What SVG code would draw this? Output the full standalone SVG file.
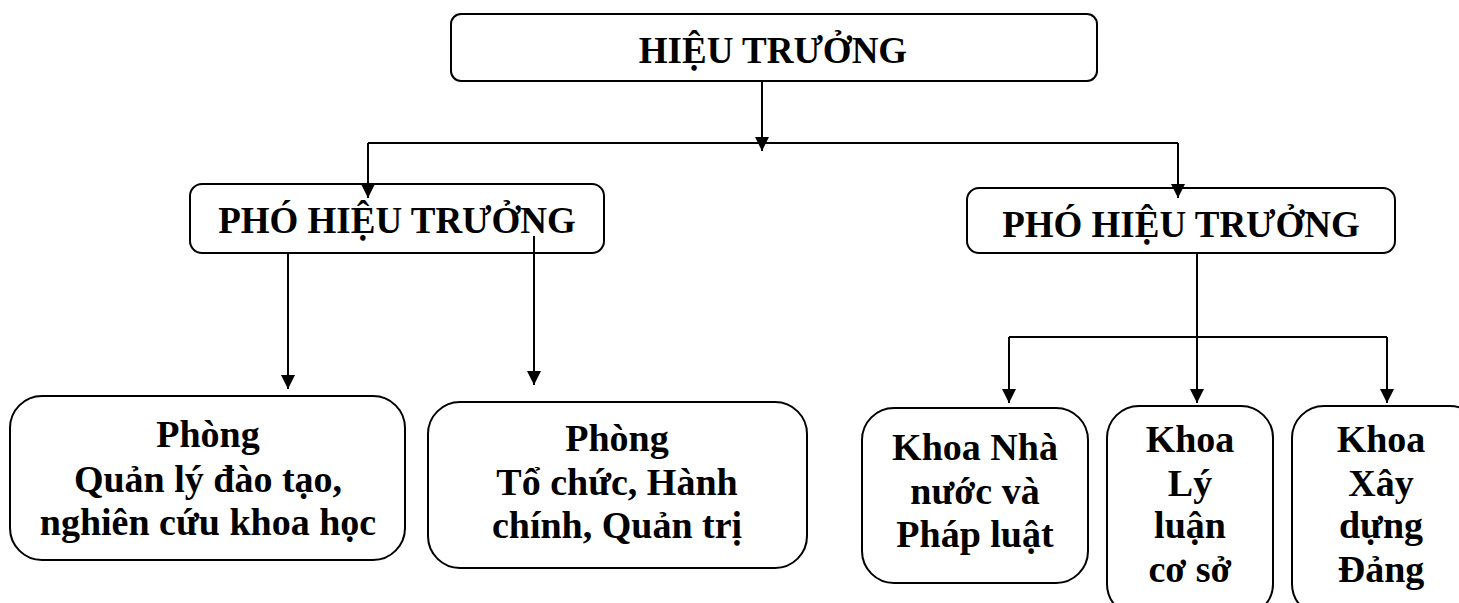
<svg xmlns="http://www.w3.org/2000/svg" width="1459" height="603" viewBox="0 0 1459 603">
<style>
.box{fill:#fff;stroke:#000;stroke-width:2}
.t{font-family:"Liberation Serif","Times New Roman",serif;font-weight:bold;font-size:37px;fill:#000;text-anchor:middle}
.b{font-size:38px}
.c{fill:none;stroke:#000;stroke-width:2}
</style>
<defs>
<marker id="ah" markerWidth="14" markerHeight="14" refX="14" refY="7" orient="auto" markerUnits="userSpaceOnUse">
<path d="M0,0 L14,7 L0,14 Z" fill="#000"/>
</marker>
</defs>
<rect width="1459" height="603" fill="#fff"/>
<g id="n-hieutruong">
<rect class="box" x="451" y="14" width="646" height="67" rx="10"/>
<text class="t" x="773" y="63">HIỆU TRƯỞNG</text>
</g>
<g id="n-pho1">
<rect class="box" x="190" y="184" width="414" height="69" rx="12"/>
<text class="t" x="397" y="233">PHÓ HIỆU TRƯỞNG</text>
</g>
<g id="n-pho2">
<rect class="box" x="967" y="188" width="428" height="65" rx="12"/>
<text class="t" x="1181" y="237">PHÓ HIỆU TRƯỞNG</text>
</g>
<g id="n-qldt">
<rect class="box" x="10" y="396" width="395" height="164" rx="32"/>
<text class="t b" x="208" y="447">Phòng</text>
<text class="t b" x="208" y="492">Quản lý đào tạo,</text>
<text class="t b" x="208" y="535">nghiên cứu khoa học</text>
</g>
<g id="n-tchc">
<rect class="box" x="428" y="402" width="379" height="166" rx="32"/>
<text class="t b" x="617" y="451">Phòng</text>
<text class="t b" x="617" y="495">Tổ chức, Hành</text>
<text class="t b" x="617" y="538">chính, Quản trị</text>
</g>
<g id="n-nnpl">
<rect class="box" x="862" y="408" width="226" height="175" rx="32"/>
<text class="t b" x="975" y="460">Khoa Nhà</text>
<text class="t b" x="975" y="504">nước và</text>
<text class="t b" x="975" y="547">Pháp luật</text>
</g>
<g id="n-llcs">
<rect class="box" x="1107" y="406" width="166" height="210" rx="32"/>
<text class="t b" x="1190" y="452">Khoa</text>
<text class="t b" x="1190" y="496">Lý</text>
<text class="t b" x="1190" y="538">luận</text>
<text class="t b" x="1190" y="582">cơ sở</text>
</g>
<g id="n-xdd">
<rect class="box" x="1292" y="406" width="190" height="210" rx="32"/>
<text class="t b" x="1381" y="452">Khoa</text>
<text class="t b" x="1381" y="496">Xây</text>
<text class="t b" x="1381" y="538">dựng</text>
<text class="t b" x="1381" y="582">Đảng</text>
</g>
<g id="connectors">
<path class="c" d="M762,81 V151" marker-end="url(#ah)"/>
<path class="c" d="M368,143 H1178"/>
<path class="c" d="M368,143 V198" marker-end="url(#ah)"/>
<path class="c" d="M1178,143 V198" marker-end="url(#ah)"/>
<path class="c" d="M288,252 V389" marker-end="url(#ah)"/>
<path class="c" d="M534,236 V385" marker-end="url(#ah)"/>
<path class="c" d="M1197,253 V403" marker-end="url(#ah)"/>
<path class="c" d="M1009,337 H1387"/>
<path class="c" d="M1009,337 V403" marker-end="url(#ah)"/>
<path class="c" d="M1387,337 V403" marker-end="url(#ah)"/>
</g>
</svg>
